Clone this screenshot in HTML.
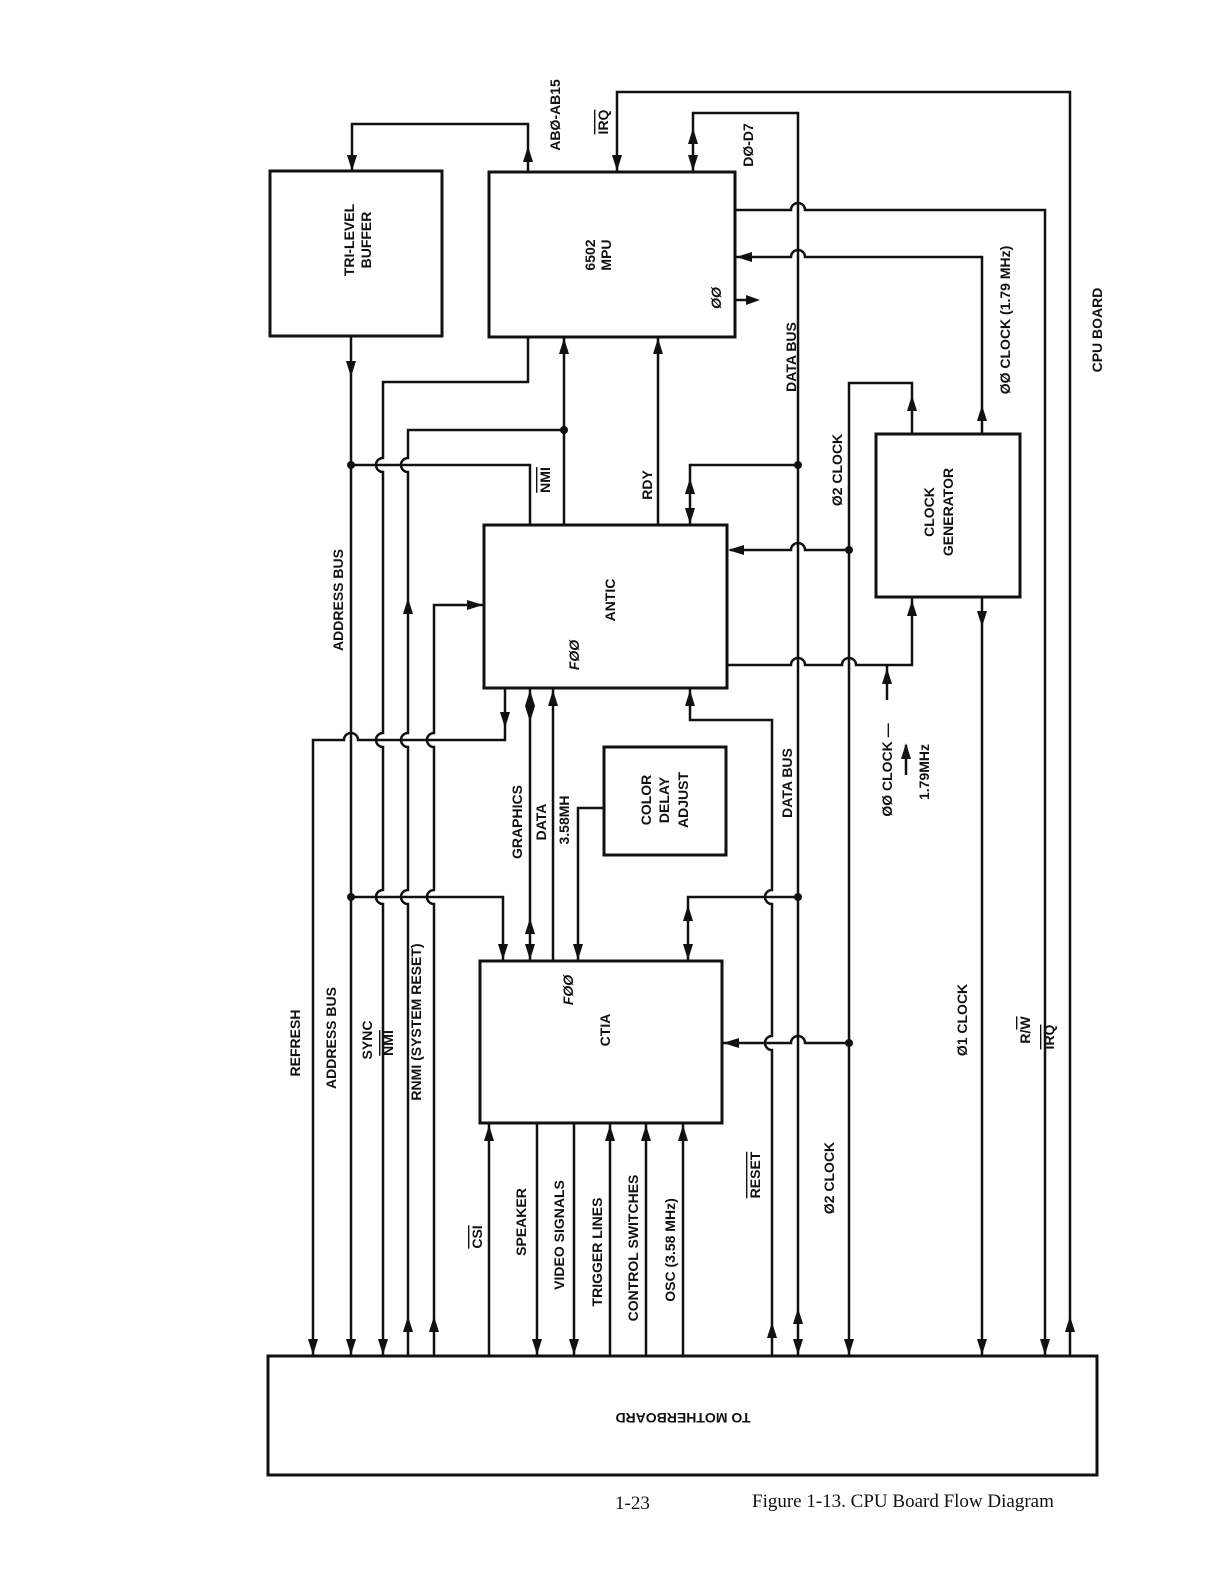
<!DOCTYPE html>
<html><head><meta charset="utf-8"><style>
html,body{margin:0;padding:0;background:#fff;}
svg{display:block;}
text{font-family:"Liberation Sans",Arial,sans-serif;font-weight:bold;font-size:14px;fill:#111;}
.ov{text-decoration:overline;}
</style></head><body>
<svg width="1224" height="1582" viewBox="0 0 1224 1582" xmlns="http://www.w3.org/2000/svg">
<g fill="none" stroke="#111" stroke-width="2.5">
<rect x="270" y="171" width="172" height="165" stroke-width="3"/>
<rect x="489" y="172" width="246" height="165" stroke-width="3"/>
<rect x="484" y="525" width="243" height="163" stroke-width="3"/>
<rect x="876" y="434" width="144" height="163" stroke-width="3"/>
<rect x="604" y="747" width="122" height="108" stroke-width="3"/>
<rect x="480" y="961" width="242" height="162" stroke-width="3"/>
<rect x="268" y="1356" width="829" height="119" stroke-width="3"/>

<path d="M352,171 V124 H528 V172"/>
<path d="M617,172 V92 H1070 V1356"/>
<path d="M693,172 V113 H798 V1356"/>
<path d="M735,210 H791 A7,7 0 0 1 805,210 H1045 V1356"/>
<path d="M735,257 H791 A7,7 0 0 1 805,257 H982 V434"/>
<path d="M735,300 H752"/>
<path d="M912,434 V383 H849 V1356"/>
<path d="M849,550 H805 A7,7 0 0 0 791,550 H730"/>
<path d="M727,665 H791 A7,7 0 0 1 805,665 H842 A7,7 0 0 1 856,665 H912 V597"/>
<path d="M887,700 V665"/>
<path d="M906,775 V745"/>
<path d="M982,597 V1356"/>
<path d="M798,465 H690 V525"/>
<path d="M658,525 V337"/>
<path d="M564,525 V337"/>
<path d="M350,465 H530 V525"/>
<path d="M528,337 V382 H383 V458 A7,7 0 0 0 383,472 V733 A7,7 0 0 0 383,747 V890 A7,7 0 0 0 383,904 V1356"/>
<path d="M564,430 H408 V458 A7,7 0 0 0 408,472 V733 A7,7 0 0 0 408,747 V890 A7,7 0 0 0 408,904 V1356"/>
<path d="M483,605 H434 V733 A7,7 0 0 0 434,747 V890 A7,7 0 0 0 434,904 V1356"/>
<path d="M351,336 V1356"/>
<path d="M505,688 V740 H358 A7,7 0 0 0 344,740 H313 V1356"/>
<path d="M351,897 H503 V961"/>
<path d="M530,688 V961"/>
<path d="M553,961 V688"/>
<path d="M604,808 H578 V961"/>
<path d="M690,688 V720 H772 V890 A7,7 0 0 0 772,904 V1036 A7,7 0 0 0 772,1050 V1356"/>
<path d="M798,897 H688 V961"/>
<path d="M849,1043 H805 A7,7 0 0 0 791,1043 H722"/>
<path d="M489,1123 V1356 M537,1123 V1356 M574,1123 V1356 M610,1123 V1356 M646,1123 V1356 M683,1123 V1356"/>
</g>
<g fill="#111">
<circle cx="351" cy="465" r="4"/><circle cx="564" cy="430" r="4"/><circle cx="798" cy="465" r="4"/>
<circle cx="849" cy="550" r="4"/><circle cx="351" cy="897" r="4"/><circle cx="798" cy="897" r="4"/><circle cx="849" cy="1043" r="4"/>
<polygon points="352,171 347,155 357,155"/>
<polygon points="617,171 612,155 622,155"/>
<polygon points="693,171 688,155 698,155"/>
<polygon points="351,377 346,361 356,361"/>
<polygon points="505,728 500,712 510,712"/>
<polygon points="690,524 685,508 695,508"/>
<polygon points="982,627 977,611 987,611"/>
<polygon points="503,960 498,944 508,944"/>
<polygon points="530,722 525,706 535,706"/>
<polygon points="530,960 525,944 535,944"/>
<polygon points="578,960 573,944 583,944"/>
<polygon points="688,960 683,944 693,944"/>
<polygon points="528,146 523,162 533,162"/>
<polygon points="693,128 688,144 698,144"/>
<polygon points="564,338 559,354 569,354"/>
<polygon points="658,338 653,354 663,354"/>
<polygon points="690,478 685,494 695,494"/>
<polygon points="982,405 977,421 987,421"/>
<polygon points="912,395 907,411 917,411"/>
<polygon points="912,600 907,616 917,616"/>
<polygon points="887,668 882,684 892,684"/>
<polygon points="906,743 901,759 911,759"/>
<polygon points="408,598 403,614 413,614"/>
<polygon points="530,690 525,706 535,706"/>
<polygon points="553,690 548,706 558,706"/>
<polygon points="690,690 685,706 695,706"/>
<polygon points="530,918 525,934 535,934"/>
<polygon points="688,905 683,921 693,921"/>
<polygon points="489,1125 484,1141 494,1141"/>
<polygon points="610,1125 605,1141 615,1141"/>
<polygon points="646,1125 641,1141 651,1141"/>
<polygon points="683,1125 678,1141 688,1141"/>
<polygon points="736,257 752,252 752,262"/>
<polygon points="760,300 746,295 746,305"/>
<polygon points="728,550 744,545 744,555"/>
<polygon points="483,605 467,600 467,610"/>
<polygon points="723,1043 739,1038 739,1048"/>
<polygon points="313,1355 308,1339 318,1339"/>
<polygon points="351,1355 346,1339 356,1339"/>
<polygon points="383,1355 378,1339 388,1339"/>
<polygon points="408,1316 403,1332 413,1332"/>
<polygon points="434,1316 429,1332 439,1332"/>
<polygon points="537,1355 532,1339 542,1339"/>
<polygon points="574,1355 569,1339 579,1339"/>
<polygon points="772,1322 767,1338 777,1338"/>
<polygon points="798,1308 793,1324 803,1324"/>
<polygon points="798,1355 793,1339 803,1339"/>
<polygon points="849,1355 844,1339 854,1339"/>
<polygon points="982,1355 977,1339 987,1339"/>
<polygon points="1045,1355 1040,1339 1050,1339"/>
<polygon points="1070,1316 1065,1332 1075,1332"/>
</g>

<g dominant-baseline="central" text-anchor="middle">
<text transform="translate(349,240) rotate(-90)">TRI-LEVEL</text>
<text transform="translate(366,240) rotate(-90)">BUFFER</text>
<text transform="translate(590,255) rotate(-90)" font-size="13">6502</text>
<text transform="translate(606,255) rotate(-90)" font-size="13">MPU</text>
<text transform="translate(716,298) rotate(-90)" font-style="italic">ØØ</text>
<text transform="translate(610,600) rotate(-90)" font-size="15">ANTIC</text>
<text transform="translate(574,655) rotate(-90)" font-style="italic">FØØ</text>
<text transform="translate(929,512) rotate(-90)">CLOCK</text>
<text transform="translate(948,512) rotate(-90)">GENERATOR</text>
<text transform="translate(646,800) rotate(-90)">COLOR</text>
<text transform="translate(664,800) rotate(-90)">DELAY</text>
<text transform="translate(683,800) rotate(-90)">ADJUST</text>
<text transform="translate(605,1030) rotate(-90)" font-size="15">CTIA</text>
<text transform="translate(568,990) rotate(-90)" font-style="italic">FØØ</text>

<text transform="translate(555,115) rotate(-90)" font-size="13">ABØ-AB15</text>
<text transform="translate(603,122) rotate(-90)" class="ov">IRQ</text>
<text transform="translate(748,145) rotate(-90)" font-size="13">DØ-D7</text>
<text transform="translate(791,357) rotate(-90)">DATA BUS</text>
<text transform="translate(1005,320) rotate(-90)">ØØ CLOCK (1.79 MHz)</text>
<text transform="translate(1097,330) rotate(-90)">CPU BOARD</text>
<text transform="translate(837,470) rotate(-90)" font-size="15">Ø2 CLOCK</text>
<text transform="translate(545,480) rotate(-90)" class="ov">NMI</text>
<text transform="translate(647,485) rotate(-90)">RDY</text>
<text transform="translate(338,600) rotate(-90)">ADDRESS BUS</text>
<text transform="translate(517,822) rotate(-90)">GRAPHICS</text>
<text transform="translate(541,822) rotate(-90)">DATA</text>
<text transform="translate(564,820) rotate(-90)" font-size="13">3.58MH</text>
<text transform="translate(787,783) rotate(-90)">DATA BUS</text>
<text transform="translate(887,770) rotate(-90)">ØØ CLOCK —</text>
<text transform="translate(924,772) rotate(-90)" font-size="13">1.79MHz</text>
<text transform="translate(295,1043) rotate(-90)">REFRESH</text>
<text transform="translate(331,1038) rotate(-90)">ADDRESS BUS</text>
<text transform="translate(367,1040) rotate(-90)">SYNC</text>
<text transform="translate(388,1043) rotate(-90)" class="ov">NMI</text>
<text transform="translate(416,1022) rotate(-90)">RNMI (SYSTEM RESET)</text>
<text transform="translate(962,1020) rotate(-90)" font-size="15">Ø1 CLOCK</text>
<text transform="translate(1025,1030) rotate(-90)">R/<tspan class="ov">W</tspan></text>
<text transform="translate(1049,1037) rotate(-90)" class="ov">IRQ</text>
<text transform="translate(477,1237) rotate(-90)" class="ov">CSI</text>
<text transform="translate(521,1222) rotate(-90)">SPEAKER</text>
<text transform="translate(559,1235) rotate(-90)">VIDEO  SIGNALS</text>
<text transform="translate(597,1252) rotate(-90)">TRIGGER  LINES</text>
<text transform="translate(633,1248) rotate(-90)">CONTROL  SWITCHES</text>
<text transform="translate(670,1250) rotate(-90)">OSC (3.58 MHz)</text>
<text transform="translate(755,1175) rotate(-90)" class="ov">RESET</text>
<text transform="translate(829,1178) rotate(-90)" font-size="15">Ø2 CLOCK</text>
<text transform="translate(683,1418) rotate(180)">TO MOTHERBOARD</text>
</g>
<text x="615" y="1509" style="font-family:'Liberation Serif',serif;font-weight:normal;font-size:19px">1-23</text>
<text x="752" y="1507" style="font-family:'Liberation Serif',serif;font-weight:normal;font-size:19px">Figure 1-13.  CPU Board Flow Diagram</text>
</svg>
</body></html>
